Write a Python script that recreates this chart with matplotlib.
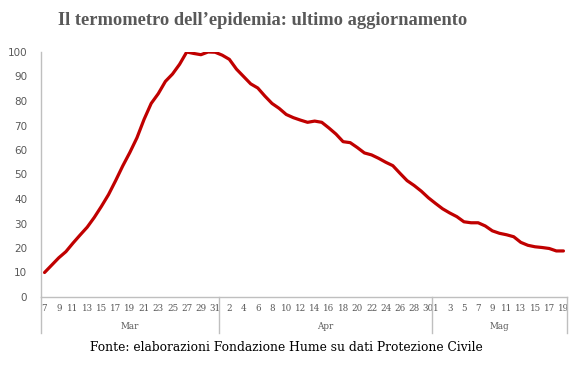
import matplotlib.pyplot as plt
import matplotlib.transforms as mtransforms

# dati: indice del termometro, 7 marzo - 19 maggio
mesi = ["Mar", "Apr", "Mag"]
giorni_mar = list(range(7, 32))
giorni_apr = list(range(1, 31))
giorni_mag = list(range(1, 20))

valori = [
    10, 13, 16, 18.5, 22, 25.3, 28.5, 32.5, 37, 41.8,
    47.5, 53.5, 59, 65, 72.5, 79, 83, 88, 91, 95,
    100, 99.4, 98.9, 100, 99.9,
    98.7, 97, 93, 90, 87, 85.3, 82, 79, 77, 74.5,
    73.2, 72.2, 71.3, 71.8, 71.3, 69, 66.5, 63.4, 63, 61,
    58.8, 58, 56.6, 55, 53.6, 50.5, 47.5, 45.5, 43.2, 40.5,
    38.2, 36, 34.3, 32.8, 30.7, 30.3, 30.3, 29, 27, 26,
    25.4, 24.6, 22.3, 21.1, 20.5, 20.2, 19.8, 18.8, 18.8,
]

# etichette dei giorni: marzo e aprile ogni due (da 7 e da 2), maggio dispari
etichette = []
for d in giorni_mar:
    etichette.append(str(d) if (d - 7) % 2 == 0 else "")
for d in giorni_apr:
    etichette.append(str(d) if d % 2 == 0 else "")
for d in giorni_mag:
    etichette.append(str(d) if d % 2 == 1 else "")

n = len(valori)
x = list(range(n))
grigio = "#BFBFBF"
testo = "#595959"

fig = plt.figure(figsize=(5.77, 3.71), dpi=100)
ax = fig.add_axes([41 / 577, 74 / 371, 526 / 577, 245 / 371])

ax.plot(x, valori, color="#C00000", linewidth=2.3, solid_capstyle="round", solid_joinstyle="round")

ax.set_xlim(-0.5, n - 0.5)
ax.set_ylim(0, 100)
ax.set_yticks(range(0, 101, 10))
ax.tick_params(axis="y", length=0, pad=10, labelsize=7.5, labelcolor=testo)

pos = [i for i, e in enumerate(etichette) if e]
ax.set_xticks(pos)
ax.set_xticklabels([etichette[i] for i in pos], family="DejaVu Serif", fontsize=6.3, color=testo)
ax.tick_params(axis="x", length=0, pad=5)

for s in ["top", "right"]:
    ax.spines[s].set_visible(False)
for s in ["left", "bottom"]:
    ax.spines[s].set_color(grigio)
    ax.spines[s].set_linewidth(1)

# asse a due livelli: separatori e nomi dei mesi
trans = mtransforms.blended_transform_factory(ax.transData, ax.transAxes)
lunghezze = [len(giorni_mar), len(giorni_apr), len(giorni_mag)]
inizio = 0
bordi = [-0.5]
for mese, l in zip(mesi, lunghezze):
    centro = inizio + (l - 1) / 2
    ax.text(centro, -0.12, mese, transform=trans, ha="center", va="center",
            family="DejaVu Serif", fontsize=6.3, color=testo)
    inizio += l
    bordi.append(inizio - 0.5)
for b in bordi:
    ax.plot([b, b], [0, -0.147], transform=trans, color=grigio, linewidth=1, clip_on=False)

fig.text(0.456, 0.945, "Il termometro dell\u2019epidemia: ultimo aggiornamento",
         ha="center", va="center", family="Liberation Serif", fontweight="bold",
         fontsize=13.3, color=testo)
fig.text(0.497, 0.062, "Fonte: elaborazioni Fondazione Hume su dati Protezione Civile",
         ha="center", va="center", family="DejaVu Serif", fontsize=8.8, color="black")

fig.savefig("out.png", dpi=100)
plt.close("all")
